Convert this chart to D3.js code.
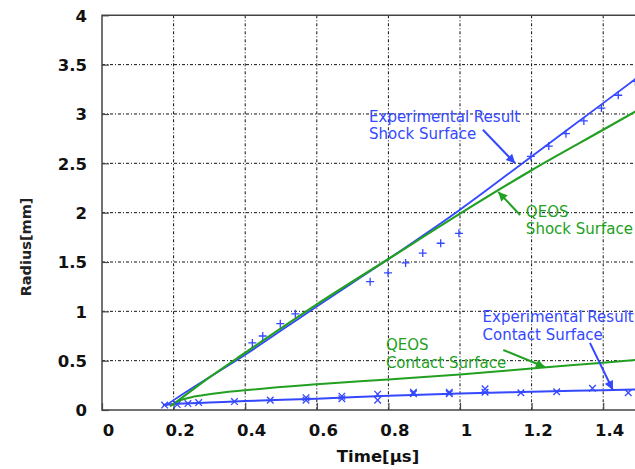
<!DOCTYPE html>
<html>
<head>
<meta charset="utf-8">
<script src="https://cdn.jsdelivr.net/npm/d3@7"></script>
<style>
  html, body { margin: 0; padding: 0; background: #fff; }
  svg { display: block; }
</style>
</head>
<body>
<svg id="chart" width="635" height="469"></svg>
<script>
// Axis ticks
const xTicks = [0, 0.2, 0.4, 0.6, 0.8, 1, 1.2, 1.4];
const xTickLabels = ["0", "0.2", "0.4", "0.6", "0.8", "1", "1.2", "1.4"];
const yTicks = [0, 0.5, 1, 1.5, 2, 2.5, 3, 3.5, 4];
const yTickLabels = ["0", "0.5", "1", "1.5", "2", "2.5", "3", "3.5", "4"];

// Experimental shock surface (+ markers)
const shockExpT = [0.42, 0.449, 0.498, 0.54, 0.749, 0.799, 0.848, 0.896, 0.946, 0.997, 1.198, 1.248, 1.296, 1.346, 1.395, 1.442, 1.49];
const shockExpR = [0.68, 0.75, 0.875, 0.975, 1.30, 1.39, 1.49, 1.59, 1.69, 1.79, 2.57, 2.675, 2.80, 2.93, 3.06, 3.19, 3.33];

// Experimental contact surface (x markers)
const contactExpT = [0.175, 0.21, 0.24, 0.27, 0.37, 0.47, 0.57, 0.57, 0.67, 0.67, 0.77, 0.77, 0.87, 0.87, 0.97, 0.97, 1.07, 1.07, 1.17, 1.27, 1.37, 1.47];
const contactExpR = [0.05, 0.055, 0.065, 0.075, 0.085, 0.10, 0.10, 0.125, 0.115, 0.14, 0.10, 0.16, 0.165, 0.18, 0.165, 0.18, 0.18, 0.215, 0.175, 0.185, 0.22, 0.175];

// Fit through experimental shock surface (blue)
const fitShockT = [0.176, 0.2, 0.4, 0.6, 0.8, 1.0, 1.2, 1.4, 1.6];
const fitShockR = [0.04, 0.1, 0.56, 1.05, 1.53, 2.03, 2.57, 3.11, 3.65];

// Fit through experimental contact surface (blue)
const fitContactT = [0.17, 0.2, 0.3, 0.4, 0.6, 0.8, 1.0, 1.2, 1.4, 1.6];
const fitContactR = [0.05, 0.06, 0.075, 0.09, 0.115, 0.145, 0.168, 0.185, 0.20, 0.215];

// QEOS simulation: shock surface (green)
const qeosShockT = [0.2, 0.3, 0.4, 0.6, 0.8, 1.0, 1.2, 1.4, 1.6];
const qeosShockR = [0.06, 0.33, 0.58, 1.07, 1.53, 1.99, 2.43, 2.84, 3.25];

// QEOS simulation: contact surface (green)
const qeosContactT = [0.19, 0.2, 0.22, 0.25, 0.3, 0.4, 0.6, 0.8, 1.0, 1.2, 1.4, 1.6];
const qeosContactR = [0.04, 0.06, 0.10, 0.13, 0.16, 0.20, 0.26, 0.31, 0.36, 0.42, 0.48, 0.54];

const BLUE = "#3448ff";
const GREEN = "#22a022";

const svg = d3.select("#chart");
const plotLeft = 102, plotTop = 15.3, plotBottom = 410;
const x = d3.scaleLinear().domain([0, 1.6]).range([plotLeft, plotLeft + 358 * 1.6]);
const y = d3.scaleLinear().domain([0, 4]).range([plotBottom, plotTop]);
const xMax = x.range()[1];

const defs = svg.append("defs");
[["arrowBlue", BLUE], ["arrowGreen", GREEN]].forEach(([id, c]) => {
  defs.append("marker")
    .attr("id", id)
    .attr("viewBox", "0 0 10 10")
    .attr("refX", 10).attr("refY", 5)
    .attr("markerWidth", 11).attr("markerHeight", 9)
    .attr("markerUnits", "userSpaceOnUse")
    .attr("orient", "auto")
    .append("path").attr("d", "M0,0 L10,5 L0,10 Z").attr("fill", c);
});

// Grid (dash-dot), continuing past the visible right edge
const grid = svg.append("g").attr("stroke", "#111").attr("stroke-width", 1)
  .attr("stroke-dasharray", "3,2,1,2").attr("fill", "none");
xTicks.filter(d => d > 0).forEach(d => {
  grid.append("line").attr("x1", x(d)).attr("x2", x(d)).attr("y1", plotTop).attr("y2", plotBottom);
});
yTicks.filter(d => d > 0 && d < 4).forEach(d => {
  grid.append("line").attr("x1", plotLeft).attr("x2", xMax).attr("y1", y(d)).attr("y2", y(d));
});

// Axes (inner ticks) via d3 axis generators
const yAxis = d3.axisLeft(y).tickValues(yTicks).tickSize(-7).tickFormat((d, i) => yTickLabels[i]);
const gy = svg.append("g").attr("transform", `translate(${plotLeft},0)`).call(yAxis);
gy.select(".domain").remove();
gy.selectAll(".tick line").attr("stroke", "#444").attr("stroke-width", 1.2);
gy.selectAll(".tick text").attr("x", -15).attr("dy", "0.36em")
  .attr("font-family", "DejaVu Sans").attr("font-weight", "bold").attr("font-size", 16.5).attr("fill", "#111");

const xAxis = d3.axisBottom(x).tickValues(xTicks).tickSize(-7).tickFormat((d, i) => xTickLabels[i]);
const gx = svg.append("g").attr("transform", `translate(0,${plotBottom})`).call(xAxis);
gx.select(".domain").remove();
gx.selectAll(".tick line").attr("stroke", "#444").attr("stroke-width", 1.2);
gx.selectAll(".tick text").attr("y", 26).attr("dy", 0).attr("dx", 6)
  .attr("font-family", "DejaVu Sans").attr("font-weight", "bold").attr("font-size", 16.5).attr("fill", "#111");

// Frame
svg.append("path")
  .attr("d", `M${xMax},${plotTop} L${plotLeft},${plotTop} L${plotLeft},${plotBottom} L${xMax},${plotBottom}`)
  .attr("fill", "none").attr("stroke", "#444").attr("stroke-width", 1.5);

// Axis titles
svg.append("text").attr("x", 378).attr("y", 462).attr("text-anchor", "middle")
  .attr("font-family", "DejaVu Sans").attr("font-weight", "bold").attr("font-size", 16.5).attr("fill", "#111")
  .text("Time[µs]");
svg.append("text").attr("transform", "translate(31,247) rotate(-90)").attr("text-anchor", "middle")
  .attr("font-family", "DejaVu Sans").attr("font-weight", "bold").attr("font-size", 14.5).attr("fill", "#222")
  .text("Radius[mm]");

// Curves
const lineGen = d3.line().x(d => x(d[0])).y(d => y(d[1])).curve(d3.curveMonotoneX);
const plotG = svg.append("g");
function drawCurve(ts, rs, color, w) {
  plotG.append("path").datum(ts.map((t, i) => [t, rs[i]]))
    .attr("d", lineGen).attr("fill", "none").attr("stroke", color).attr("stroke-width", w);
}
drawCurve(fitContactT, fitContactR, BLUE, 2);
drawCurve(qeosContactT, qeosContactR, GREEN, 2);
drawCurve(fitShockT, fitShockR, BLUE, 1.8);
drawCurve(qeosShockT, qeosShockR, GREEN, 2.2);

// Markers
const s = 4;
shockExpT.forEach((t, i) => {
  const cx = x(t), cy = y(shockExpR[i]);
  plotG.append("path").attr("d", `M${cx - s},${cy} H${cx + s} M${cx},${cy - s} V${cy + s}`)
    .attr("stroke", BLUE).attr("stroke-width", 1.3).attr("fill", "none");
});
const k = 3.3;
contactExpT.forEach((t, i) => {
  const cx = x(t), cy = y(contactExpR[i]);
  plotG.append("path").attr("d", `M${cx - k},${cy - k} L${cx + k},${cy + k} M${cx - k},${cy + k} L${cx + k},${cy - k}`)
    .attr("stroke", BLUE).attr("stroke-width", 1.3).attr("fill", "none");
});

// Annotations
function label(lines, t, r, color) {
  const g = svg.append("text").attr("x", x(t)).attr("y", y(r))
    .attr("font-family", "DejaVu Sans").attr("font-size", 15).attr("fill", color);
  lines.forEach((ln, i) => g.append("tspan").attr("x", x(t)).attr("dy", i === 0 ? 0 : 17.5).text(ln));
}
function arrow(t0, r0, t1, r1, color, id) {
  svg.append("line").attr("x1", x(t0)).attr("y1", y(r0)).attr("x2", x(t1)).attr("y2", y(r1))
    .attr("stroke", color).attr("stroke-width", 2).attr("marker-end", `url(#${id})`);
}
label(["Experimental Result", "Shock Surface"], 0.746, 2.92, BLUE);
arrow(1.064, 2.84, 1.154, 2.50, BLUE, "arrowBlue");

label(["QEOS", "Shock Surface"], 1.184, 1.96, GREEN);
arrow(1.168, 1.976, 1.107, 2.21, GREEN, "arrowGreen");

label(["QEOS", "Contact Surface"], 0.793, 0.608, GREEN);
arrow(1.121, 0.608, 1.237, 0.436, GREEN, "arrowGreen");

label(["Experimental Result", "Contact Surface"], 1.063, 0.89, BLUE);
arrow(1.363, 0.68, 1.427, 0.203, BLUE, "arrowBlue");
</script>
</body>
</html>
